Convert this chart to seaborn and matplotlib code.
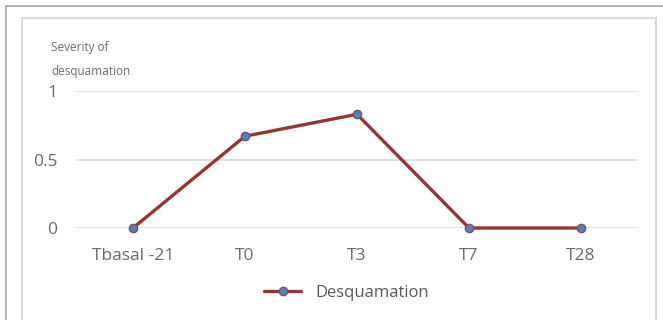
import matplotlib
matplotlib.use("Agg")
import matplotlib.pyplot as plt
from matplotlib.patches import Rectangle
from matplotlib.lines import Line2D
import seaborn as sns
import pandas as pd

timepoints = ["Tbasal -21", "T0", "T3", "T7", "T28"]
severity = [0.0, 0.67, 0.83, 0.0, 0.0]
y_ticks = [0, 0.5, 1]
y_tick_labels = ["0", "0.5", "1"]
series_name = "Desquamation"

sns.set_style("white")
plt.rcParams["font.family"] = ["Open Sans", "DejaVu Sans"]

W, H = 663, 320
fig = plt.figure(figsize=(W / 100, H / 100), dpi=100)
fig.patch.set_facecolor("white")

# chart frames
fig.patches.append(Rectangle((5.5 / W, -0.1), 1.2, (H - 5.5) / H + 0.1,
                             transform=fig.transFigure, fill=False,
                             edgecolor="#A6A6A6", linewidth=1.2))
fig.patches.append(Rectangle((21.5 / W, -0.1), (655.5 - 21.5) / W, (H - 17.5) / H + 0.1,
                             transform=fig.transFigure, fill=False,
                             edgecolor="#D9D9D9", linewidth=1.5))

ax = fig.add_axes([77 / W, (H - 228) / H, 560 / W, 137 / H])
df = pd.DataFrame({"time": timepoints, "severity": severity})

line_color = "#943634"
sns.lineplot(data=df, x="time", y="severity", ax=ax, sort=False,
             color=line_color, linewidth=2.4, marker="o", markersize=6,
             markerfacecolor="#4F81BD", markeredgecolor="#8C4A5A",
             markeredgewidth=1.0, clip_on=False, zorder=3)

ax.set_xlim(-0.5, len(timepoints) - 0.5)
ax.set_ylim(0, 1)
ax.set_yticks(y_ticks)
ax.set_yticklabels(y_tick_labels)
ax.set_xlabel("")
ax.set_ylabel("")
ax.grid(axis="y", color="#D9D9D9", linewidth=1.2)
ax.grid(axis="x", visible=False)
for s in ax.spines.values():
    s.set_visible(False)
ax.tick_params(axis="both", length=0, labelcolor="#6B6B6B", labelsize=12.5)
ax.tick_params(axis="y", pad=14)
ax.tick_params(axis="x", pad=14.5)

fig.text(51 / W, 1 - 47 / H, "Severity of", fontsize=8.5, color="#6B6B6B", va="center")
fig.text(51 / W, 1 - 72 / H, "desquamation", fontsize=8.5, color="#6B6B6B", va="center")

handle = Line2D([], [], color=line_color, linewidth=2.4, marker="o", markersize=6,
                markerfacecolor="#4F81BD", markeredgecolor="#8C4A5A")
fig.legend([handle], [series_name], loc="center", bbox_to_anchor=(346.5 / W, 1 - 293 / H),
           frameon=False, fontsize=12, labelcolor="#595959", handlelength=2.25,
           handletextpad=0.85)

fig.savefig("out.png", dpi=100)
